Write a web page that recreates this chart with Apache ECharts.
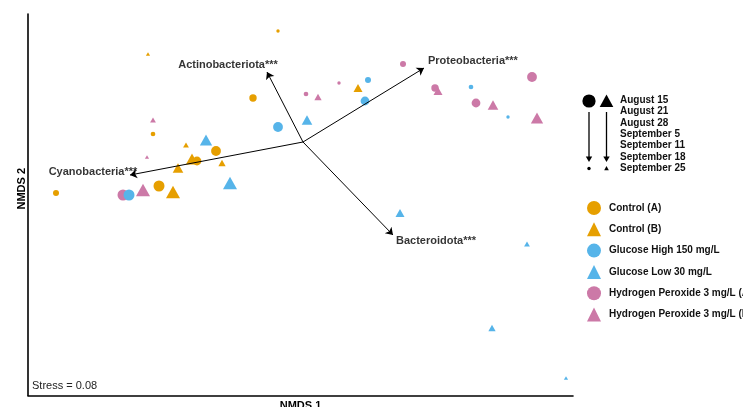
<!DOCTYPE html>
<html>
<head>
<meta charset="utf-8">
<script src="https://cdn.jsdelivr.net/npm/echarts@6/dist/echarts.min.js"></script>
<style>
html,body{margin:0;padding:0;background:#fff;}
#chart{width:743px;height:407px;}
</style>
</head>
<body>
<div id="chart"></div>
<script>
// ---- data ----
const dates = ['August 15','August 21','August 28','September 5','September 11','September 18','September 25'];
const treatments = ['Control (A)','Control (B)','Glucose High 150 mg/L','Glucose Low 30 mg/L','Hydrogen Peroxide 3 mg/L (A)','Hydrogen Peroxide 3 mg/L (B)'];
// [NMDS1, NMDS2, date index]
const controlA = [[-0.576,-0.176,0],[-0.348,-0.036,1],[-0.424,-0.076,2],[-0.200,0.176,3],[-0.988,-0.204,4],[-0.600,0.032,5],[-0.100,0.444,6]];
const controlB = [[-0.520,-0.200,0],[-0.444,-0.068,1],[-0.500,-0.104,2],[0.220,0.216,3],[-0.324,-0.084,4],[-0.468,-0.012,5],[-0.620,0.352,6]];
const glucoseHigh = [[-0.696,-0.212,0],[-0.100,0.060,1],[0.248,0.164,2],[0.260,0.248,4],[0.672,0.220,5],[0.820,0.100,6]];
const glucoseLow = [[-0.292,-0.164,0],[-0.388,0.008,1],[0.016,0.088,2],[0.388,-0.284,3],[0.756,-0.744,4],[0.896,-0.408,5],[1.052,-0.944,6]];
const peroxideA = [[-0.720,-0.212,0],[0.916,0.260,1],[0.692,0.156,2],[0.528,0.216,3],[0.400,0.312,4],[0.012,0.192,5],[0.144,0.236,6]];
const peroxideB = [[-0.640,-0.192,0],[0.936,0.096,1],[0.760,0.148,2],[0.540,0.204,3],[0.060,0.180,4],[-0.600,0.088,5],[-0.624,-0.060,6]];
const vectorNames = ['Actinobacteriota***','Proteobacteria***','Cyanobacteria***','Bacteroidota***'];
const vectorX = [-0.144, 0.484, -0.692, 0.360];
const vectorY = [0.280, 0.296, -0.132, -0.372];
const stressText = 'Stress = 0.08';

// ---- styles ----
const FONT = '"Liberation Sans", Arial, Helvetica, sans-serif';
const colors = ['#E69F00','#E69F00','#56B4E9','#56B4E9','#CC79A7','#CC79A7'];
const circleSizes = [11, 9.8, 8.8, 7.4, 6, 4.7, 3.4];
const triSizes = [14, 12.3, 10.6, 9, 7.3, 5.8, 4.2];
const labelStyles = [
  {align:'center', offset:[-39,-7]},
  {align:'left', offset:[4,-7]},
  {align:'center', offset:[-37,-3]},
  {align:'left', offset:[3,6]}
];

function pointSeries(name, data, color, shape){
  return {
    name: name,
    type: 'scatter',
    data: data,
    symbol: shape,
    symbolSize: function(v){
      const d = v[2];
      return shape === 'circle' ? circleSizes[d] : [triSizes[d], triSizes[d]*0.88];
    },
    itemStyle: {color: color, opacity: 1},
    emphasis: {disabled: true},
    z: 2
  };
}

const chart = echarts.init(document.getElementById('chart'), null, {renderer:'canvas'});

const vectorLines = vectorNames.map((n,i)=>({name:n, coords:[[0,0],[vectorX[i],vectorY[i]]]}));
const vectorLabelData = vectorNames.map((n,i)=>({
  name: n,
  value: [vectorX[i], vectorY[i]],
  label: {show:true, position:'inside', formatter: n, align: labelStyles[i].align, verticalAlign:'middle', offset: labelStyles[i].offset}
}));

// size legend graphics
const g = [];
g.push({type:'circle', shape:{cx:589, cy:101, r:6.6}, style:{fill:'#000'}});
g.push({type:'polygon', shape:{points:[[606.5,94.5],[613.3,107],[599.7,107]]}, style:{fill:'#000'}});
[589, 606.5].forEach(x=>{
  g.push({type:'line', shape:{x1:x, y1:112, x2:x, y2:158}, style:{stroke:'#000', lineWidth:1.3}});
  g.push({type:'polygon', shape:{points:[[x-3.2,156.5],[x+3.2,156.5],[x,162]]}, style:{fill:'#000'}});
});
g.push({type:'circle', shape:{cx:589, cy:168.5, r:1.7}, style:{fill:'#000'}});
g.push({type:'polygon', shape:{points:[[606.5,166],[608.8,170.2],[604.2,170.2]]}, style:{fill:'#000'}});
dates.forEach((d,i)=>{
  g.push({type:'text', x:620, y:100 + i*11.4, style:{text:d, fill:'#111', font:'bold 10px ' + FONT, textAlign:'left', textVerticalAlign:'middle'}});
});
g.push({type:'text', x:32, y:386, style:{text:stressText, fill:'#222', font:'11px ' + FONT, textAlign:'left', textVerticalAlign:'middle'}});

const option = {
  animation: false,
  backgroundColor: '#fff',
  textStyle: {fontFamily: FONT},
  grid: {left:28, top:14, right:170, bottom:11.5, containLabel:false, outerBoundsMode:'none'},
  xAxis: {
    type:'value', min:-1.1, max:1.08,
    name:'NMDS 1', nameLocation:'middle', nameGap:5,
    nameTextStyle:{fontSize:11, fontWeight:'bold', color:'#000', fontFamily:FONT, verticalAlign:'top'},
    axisLine:{show:true, onZero:false, lineStyle:{color:'#000', width:1.6}},
    axisTick:{show:false}, axisLabel:{show:false}, splitLine:{show:false}
  },
  yAxis: {
    type:'value', min:-1.014, max:0.512,
    name:'NMDS 2', nameLocation:'middle', nameGap:1,
    nameTextStyle:{fontSize:11, fontWeight:'bold', color:'#000', fontFamily:FONT, padding:[0,0,0,32]},
    axisLine:{show:true, onZero:false, lineStyle:{color:'#000', width:1.6}},
    axisTick:{show:false}, axisLabel:{show:false}, splitLine:{show:false}
  },
  legend: {
    orient:'vertical', left:582, top:196,
    itemWidth:14, itemHeight:14, itemGap:7.3,
    selectedMode:false,
    data: treatments,
    textStyle:{fontSize:10, fontWeight:'bold', color:'#111', fontFamily:FONT, padding:[0,0,0,3]}
  },
  graphic: g,
  series: [
    pointSeries(treatments[4], peroxideA, colors[4], 'circle'),
    pointSeries(treatments[5], peroxideB, colors[5], 'triangle'),
    pointSeries(treatments[0], controlA, colors[0], 'circle'),
    pointSeries(treatments[1], controlB, colors[1], 'triangle'),
    pointSeries(treatments[2], glucoseHigh, colors[2], 'circle'),
    pointSeries(treatments[3], glucoseLow, colors[3], 'triangle'),
    {
      type:'lines', coordinateSystem:'cartesian2d', data: vectorLines,
      symbol:['none','arrow'], symbolSize:7,
      lineStyle:{color:'#000', width:1, opacity:1},
      silent:true, z:5
    },
    {
      type:'scatter', data: vectorLabelData, symbolSize:0, silent:true, z:6,
      label:{show:true, fontSize:11, fontWeight:'bold', color:'#000', fontFamily:FONT}
    }
  ]
};
chart.setOption(option);
</script>
</body>
</html>
